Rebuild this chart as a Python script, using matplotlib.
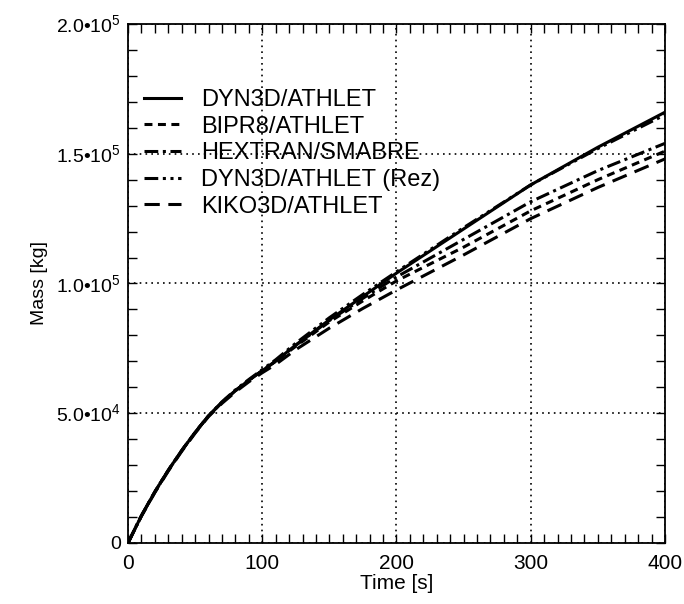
import matplotlib
matplotlib.use("Agg")
import matplotlib.pyplot as plt
from matplotlib import font_manager
from matplotlib.ticker import MultipleLocator, FuncFormatter
import math

names = {f.name for f in font_manager.fontManager.ttflist}
main_font = 'Liberation Sans Narrow' if 'Liberation Sans Narrow' in names else 'Liberation Sans'
plt.rcParams['font.family'] = [main_font, 'DejaVu Sans']
plt.rcParams['mathtext.fontset'] = 'custom'
plt.rcParams['mathtext.rm'] = main_font

# time points [s]
t = [0, 10, 20, 30, 40, 50, 60, 70, 80, 90, 100, 110, 125, 150, 175, 200, 250, 300, 350, 400]

# accumulated mass [kg] for each code combination
dyn3d = [0, 10.5e3, 19.7e3, 28e3, 35.6e3, 42.6e3, 49e3, 54.2e3, 58.7e3, 62.7e3, 66.4e3,
         70.1e3, 76.3e3, 86e3, 95e3, 104e3, 121e3, 138e3, 152.5e3, 166e3]
bipr8 = [0, 10.5e3, 19.7e3, 28e3, 35.6e3, 42.6e3, 49e3, 54.2e3, 58.7e3, 62.7e3, 66.4e3,
         70e3, 75.8e3, 85.2e3, 93.3e3, 101e3, 114e3, 128e3, 140e3, 151e3]
hextran = [0, 10.5e3, 19.7e3, 28e3, 35.6e3, 42.6e3, 49e3, 54.2e3, 58.7e3, 62.7e3, 66.4e3,
           70.1e3, 76.2e3, 85.7e3, 94.3e3, 102.5e3, 117e3, 131.5e3, 143.5e3, 154e3]
dyn3d_rez = [0, 10.5e3, 19.7e3, 28e3, 35.6e3, 42.6e3, 49e3, 54.4e3, 59e3, 63e3, 66.8e3,
             70.6e3, 77e3, 86.8e3, 95.8e3, 104.5e3, 121.5e3, 138e3, 152e3, 165e3]
kiko3d = [0, 10.3e3, 19.4e3, 27.7e3, 35.3e3, 42.3e3, 48.7e3, 53.8e3, 58.2e3, 62.1e3, 65.6e3,
          68.8e3, 74.5e3, 82.8e3, 90.4e3, 97.5e3, 111e3, 125e3, 137e3, 148e3]

labels = ["DYN3D/ATHLET", "BIPR8/ATHLET", "HEXTRAN/SMABRE", "DYN3D/ATHLET (Rez)", "KIKO3D/ATHLET"]

fig = plt.figure(figsize=(6.84, 6.04), dpi=100)
ax = fig.add_axes([0.1871, 0.101, 0.7851, 0.8593])

lw = 2.2
ax.plot(t, dyn3d, color='black', lw=lw, linestyle='-', label=labels[0])
ax.plot(t, bipr8, color='black', lw=lw, linestyle=(0, (2.6, 1.8)), label=labels[1])
ax.plot(t, hextran, color='black', lw=lw, linestyle=(0, (4.5, 1.5, 1, 1.5)), label=labels[2])
ax.plot(t, dyn3d_rez, color='black', lw=lw, linestyle=(0, (4.5, 1.5, 1, 1.5, 1, 1.5)), label=labels[3])
ax.plot(t, kiko3d, color='black', lw=lw, linestyle=(0, (5, 2.8)), label=labels[4])

ax.set_xlim(0, 400)
ax.set_ylim(0, 2e5)
ax.xaxis.set_major_locator(MultipleLocator(100))
ax.xaxis.set_minor_locator(MultipleLocator(10))
ax.yaxis.set_major_locator(MultipleLocator(5e4))
ax.yaxis.set_minor_locator(MultipleLocator(1e4))


def yfmt(v, pos):
    if v <= 0:
        return "0"
    e = int(math.floor(math.log10(v) + 1e-9))
    return "%.1f\u202210$^{%d}$" % (v / 10 ** e, e)


ax.yaxis.set_major_formatter(FuncFormatter(yfmt))
ax.tick_params(which='both', direction='in', top=True, right=True, width=1.0, length=6.5)
ax.tick_params(axis='x', labelsize=15, pad=8)
ax.tick_params(axis='y', labelsize=14, pad=5)
ax.grid(True, which='major', color='black', linestyle=(0, (1, 2.5)), lw=1.2)
for s in ax.spines.values():
    s.set_linewidth(1.3)

ax.set_xlabel("Time [s]", fontsize=15, labelpad=1)
ax.set_ylabel("Mass [kg]", fontsize=14, labelpad=6)

ax.legend(loc='upper left', bbox_to_anchor=(0.03, 0.875), frameon=False, fontsize=17,
          handlelength=1.55, labelspacing=0.2, handletextpad=0.85,
          borderpad=0, borderaxespad=0)

fig.savefig("out.png", dpi=100)
